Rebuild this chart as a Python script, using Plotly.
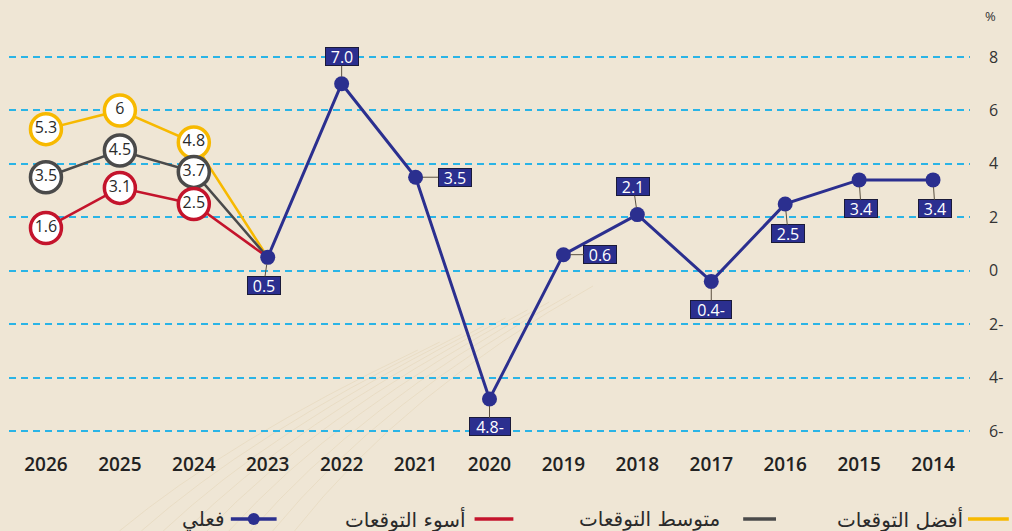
import plotly.graph_objects as go

# ---------------- data ----------------
years = ["2014", "2015", "2016", "2017", "2018", "2019", "2020",
         "2021", "2022", "2023", "2024", "2025", "2026"]
actual_years = ["2014", "2015", "2016", "2017", "2018", "2019",
                "2020", "2021", "2022", "2023"]
actual_vals = [3.4, 3.4, 2.5, -0.4, 2.1, 0.6, -4.8, 3.5, 7.0, 0.5]

fc_years = ["2023", "2024", "2025", "2026"]
best_vals = [0.5, 4.8, 6, 5.3]
avg_vals = [0.5, 3.7, 4.5, 3.5]
worst_vals = [0.5, 2.5, 3.1, 1.6]

y_tickvals = [8, 6, 4, 2, 0, -2, -4, -6]
y_ticktext = ["8", "6", "4", "2", "0", "2-", "4-", "6-"]

legend_names = ["أفضل التوقعات", "متوسط التوقعات", "أسوء التوقعات", "فعلي"]

# ---------------- styles ----------------
NAVY = "#2b2f8f"
YELLOW = "#f7b900"
GRAY = "#4a4a4a"
RED = "#c4142c"
BG = "#efe6d5"
GRID = "#2ab4e6"

# label placement for actual points (offsets in px: ax, ay)
label_pos = {"2014": (2, 29), "2015": (2, 29), "2016": (3, 30), "2017": (0, 28),
             "2018": (-4, -28), "2019": (37, 0), "2020": (0, 28), "2021": (39, 0),
             "2022": (0, -27), "2023": (-4, 28)}


def fmt(v, one_dec=True):
    s = f"{abs(v):.1f}" if one_dec else (f"{abs(v):g}")
    return s + ("-" if v < 0 else "")


fig = go.Figure()

# faint decorative background strokes (paper texture)
PL, PW, PB, PH = 9, 966, 439, 390


def px_x(p):
    return (p - PL) / PW


def px_y(p):
    return (PB - p) / PH


for k in range(9):
    x0 = 120 + k * 22
    fig.add_shape(type="path", xref="paper", yref="paper", layer="below",
                  path=f"M {px_x(x0)},{px_y(531)} Q {px_x(x0 + 110)},{px_y(440 - k * 6)} "
                       f"{px_x(x0 + 300)},{px_y(350 - k * 8)}",
                  line=dict(color="rgba(205,175,120,0.18)", width=1))

series = [(best_vals, YELLOW), (avg_vals, GRAY), (worst_vals, RED)]
# forecast lines
for vals, col in series:
    fig.add_trace(go.Scatter(x=fc_years, y=vals, mode="lines",
                             line=dict(color=col, width=2.5),
                             showlegend=False, hoverinfo="skip"))

# actual line
fig.add_trace(go.Scatter(x=actual_years, y=actual_vals, mode="lines+markers",
                         line=dict(color=NAVY, width=3),
                         marker=dict(color=NAVY, size=15),
                         showlegend=False))

# forecast circles (exclude 2023 starting point)
for vals, col in series:
    fig.add_trace(go.Scatter(x=fc_years[1:], y=vals[1:], mode="markers+text",
                             marker=dict(color="white", size=31,
                                         line=dict(color=col, width=3.5)),
                             text=[fmt(v, False) for v in vals[1:]],
                             textposition="middle center",
                             textfont=dict(family="Open Sans", size=16, color="#2a2a2a"),
                             showlegend=False))

# actual labels (category index used for x)
for yr, v in zip(actual_years, actual_vals):
    ax, ay = label_pos[yr]
    txt = fmt(v)
    fig.add_annotation(x=years.index(yr), y=v, text=txt, showarrow=True,
                       ax=ax, ay=ay, arrowhead=0, arrowwidth=1,
                       arrowcolor="#5a5040", standoff=7,
                       width=len(txt) * 8 + 8, height=17,
                       bgcolor=NAVY, bordercolor="#1a1a3a", borderwidth=1,
                       borderpad=0,
                       font=dict(family="Open Sans", size=16, color="white"))

# "%" unit label
fig.add_annotation(xref="paper", yref="paper", x=px_x(996), y=px_y(16),
                   text="%", showarrow=False, xanchor="center", yanchor="middle",
                   font=dict(family="Open Sans", size=13, color="#333"))

# ---------------- custom RTL legend ----------------
leg_y = 519
legend_items = [  # (name, color, text right edge px, symbol start, symbol end)
    (legend_names[0], YELLOW, 970, 973, 1014),
    (legend_names[1], GRAY, 726, 747, 780),
    (legend_names[2], RED, 470, 477, 516),
    (legend_names[3], NAVY, 228, 232, 278),
]
for name, col, tx, s0, s1 in legend_items:
    fig.add_annotation(xref="paper", yref="paper", x=px_x(tx), y=px_y(leg_y),
                       text=name, showarrow=False, xanchor="right", yanchor="middle",
                       font=dict(family="DejaVu Sans", size=20, color="#2a2a2a"))
    fig.add_shape(type="line", xref="paper", yref="paper",
                  x0=px_x(s0), x1=px_x(s1), y0=px_y(leg_y), y1=px_y(leg_y),
                  line=dict(color=col, width=3.5))
fig.add_shape(type="circle", xref="paper", yref="paper",
              x0=px_x(249), x1=px_x(261), y0=px_y(525), y1=px_y(513),
              fillcolor=NAVY, line=dict(color=NAVY, width=0))

fig.update_layout(
    width=1012, height=531,
    margin=dict(l=PL, r=1012 - PL - PW, t=49, b=531 - PB),
    paper_bgcolor=BG, plot_bgcolor=BG,
    showlegend=False,
    xaxis=dict(type="category", categoryorder="array", categoryarray=years,
               range=[12.5, -0.5], showgrid=False, zeroline=False,
               showline=False, ticks="", ticklabelstandoff=12,
               tickfont=dict(family="Open Sans", size=19, color="#222", weight=600)),
    yaxis=dict(side="right", range=[-6.3, 8.3], tickvals=y_tickvals,
               ticktext=y_ticktext, showgrid=True, gridcolor=GRID,
               gridwidth=1.5, griddash="7px,5px", zeroline=False,
               showline=False, ticks="", ticklabelstandoff=18,
               tickfont=dict(family="Open Sans", size=16, color="#333")),
)

fig.write_html("out.html", config={"displayModeBar": False},
               post_script="document.body.style.margin='0';")
